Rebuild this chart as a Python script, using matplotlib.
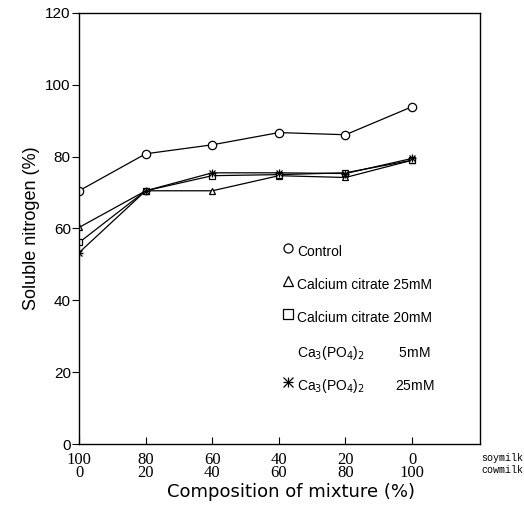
import matplotlib
matplotlib.use("Agg")
import matplotlib.pyplot as plt

soymilk = [100, 80, 60, 40, 20, 0]
cowmilk = [0, 20, 40, 60, 80, 100]
control = [70.5, 80.8, 83.3, 86.7, 86.1, 93.9]
citrate25 = [60.3, 70.5, 70.5, 74.7, 74.2, 79.0]
citrate20 = [56.1, 70.5, 74.7, 75.0, 75.5, 79.0]
phos25 = [53.3, 70.5, 75.5, 75.5, 75.3, 79.5]
yticks = [0, 20, 40, 60, 80, 100, 120]

fig = plt.figure(figsize=(5.24, 5.13), dpi=100)
ax = fig.add_axes([0.151, 0.1345, 0.765, 0.8402])
xs = list(range(len(soymilk)))
lw = 0.9
ax.plot(xs, control, '-o', color='black', lw=lw, ms=6, mfc='white', mew=0.9)
ax.plot(xs, citrate25, '-^', color='black', lw=lw, ms=5, mfc='white', mew=0.9)
ax.plot(xs, citrate20, '-s', color='black', lw=lw, ms=4.5, mfc='white', mew=0.9)
ax.plot(xs, phos25, '-x', color='black', lw=lw, ms=5, mew=0.9)
ax.plot(xs, phos25, '+', color='black', ms=6, mew=0.9)

ax.set_xlim(0, 6.02)
ax.set_ylim(0, 120)
ax.set_yticks(yticks)
ax.set_yticklabels([str(v) for v in yticks], fontfamily='Liberation Sans', fontsize=11)
ax.set_xticks(xs)
ax.set_xticklabels([f"{s}\n{c}" for s, c in zip(soymilk, cowmilk)],
                   fontfamily='Liberation Serif', fontsize=12, linespacing=0.75)
ax.tick_params(axis='x', direction='in', length=5, pad=6)
ax.tick_params(axis='y', direction='out', length=5, pad=1)
for s in ax.spines.values():
    s.set_linewidth(1.0)

ax.set_ylabel('Soluble nitrogen (%)', fontfamily='Liberation Sans', fontsize=13, labelpad=4)
fig.text(0.555, 0.04, 'Composition of mixture (%)', ha='center', va='center',
         fontfamily='DejaVu Sans', fontsize=13)
fig.text(0.919, 0.107, 'soymilk', ha='left', va='center', fontfamily='Liberation Mono', fontsize=7.2)
fig.text(0.919, 0.084, 'cowmilk', ha='left', va='center', fontfamily='Liberation Mono', fontsize=7.2)

# legend drawn manually in axes data coords
labels = ['Control', 'Calcium citrate 25mM', 'Calcium citrate 20mM',
          r'Ca$_3$(PO$_4$)$_2$         5mM', r'Ca$_3$(PO$_4$)$_2$        25mM']
markers = ['o', '^', 's', None, 'x']
ly = [53.5, 44.2, 35.0, 25.3, 16.1]
for lab, mk, yv in zip(labels, markers, ly):
    if mk is not None:
        ax.plot([3.13], [yv + 1.2], marker=mk, color='black', mfc='white', ms=6.5, mew=0.9,
                ls='none', clip_on=False)
        if mk == 'x':
            ax.plot([3.13], [yv + 1.2], marker='+', color='black', ms=7.5, mew=0.9, ls='none')
    ax.text(3.27, yv, lab, ha='left', va='center', fontfamily='Liberation Sans', fontsize=10)

fig.savefig('out.png', dpi=100)
